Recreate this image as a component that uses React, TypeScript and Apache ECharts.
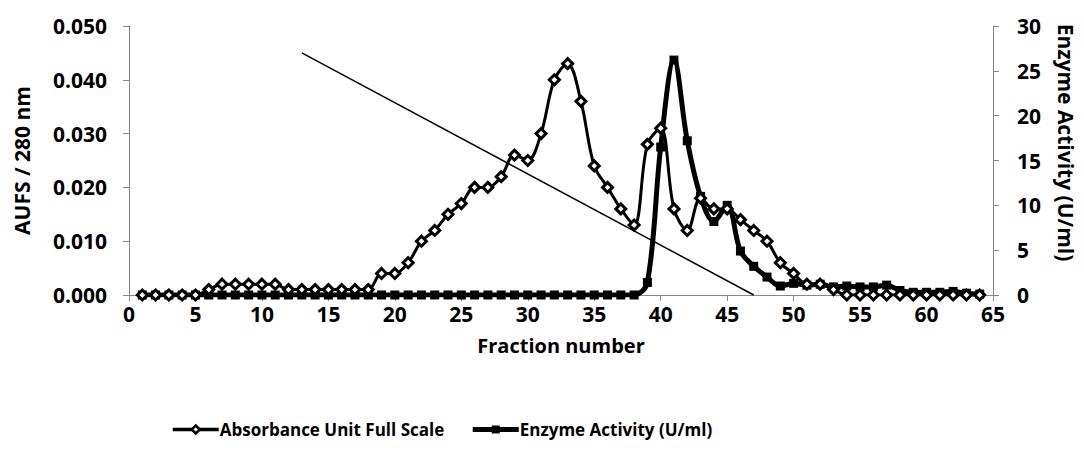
import React, { useEffect, useRef } from "react";
import * as echarts from "echarts";

const fractions = [
  1, 2, 3, 4, 5, 6, 7, 8, 9, 10, 11, 12, 13, 14, 15, 16, 17, 18, 19, 20, 21, 22,
  23, 24, 25, 26, 27, 28, 29, 30, 31, 32, 33, 34, 35, 36, 37, 38, 39, 40, 41, 42,
  43, 44, 45, 46, 47, 48, 49, 50, 51, 52, 53, 54, 55, 56, 57, 58, 59, 60, 61, 62,
  63, 64,
];

const absorbance = [
  0, 0, 0, 0, 0, 0.001, 0.002, 0.002, 0.002, 0.002, 0.002, 0.001, 0.001, 0.001,
  0.001, 0.001, 0.001, 0.001, 0.004, 0.004, 0.006, 0.01, 0.012, 0.015, 0.017,
  0.02, 0.02, 0.022, 0.026, 0.025, 0.03, 0.04, 0.043, 0.036, 0.024, 0.02, 0.016,
  0.013, 0.028, 0.031, 0.016, 0.012, 0.018, 0.016, 0.016, 0.014, 0.012, 0.01,
  0.006, 0.004, 0.002, 0.002, 0.001, 0, 0, 0, 0, 0, 0, 0, 0, 0, 0, 0,
];

const enzyme = [
  0, 0, 0, 0, 0, 0, 0, 0, 0, 0, 0, 0, 0, 0, 0, 0, 0, 0, 0, 0, 0, 0, 0, 0, 0, 0,
  0, 0, 0, 0, 0, 0, 0, 0, 0, 0, 0, 0, 1.4, 16.5, 26.2, 17.2, 11, 8.2, 10, 4.9,
  3.2, 2.0, 1.0, 1.3, 1.1, 1.2, 0.9, 1.0, 0.9, 0.9, 1.1, 0.5, 0.3, 0.3, 0.3, 0.4,
  0.2, 0.1,
];

const gradientX = [13, 47];
const gradientY = [0.045, 0];

const seriesNames = ["Absorbance Unit Full Scale", "Enzyme Activity (U/ml)"];

const FONT = "'Open Sans', 'Noto Sans', sans-serif";

export default function App() {
  const ref = useRef<HTMLDivElement>(null);

  useEffect(() => {
    if (!ref.current) return;
    const chart = echarts.init(ref.current, undefined, { renderer: "svg" });
    const axisLine = { show: true, lineStyle: { color: "#868686", width: 1 } };
    const labelStyle = {
      color: "#000",
      fontFamily: FONT,
      fontWeight: "bold" as const,
      fontSize: 21,
    };
    const tick = { show: true, length: 6, lineStyle: { color: "#868686" } };
    chart.setOption({
      animation: false,
      backgroundColor: "#fff",
      grid: { left: 129, right: 88, top: 26, bottom: 158, containLabel: false },
      legend: {
        data: [
          {
            name: seriesNames[0],
            lineStyle: { width: 3.5, color: "#000" },
            itemStyle: { color: "#fff", borderColor: "#000", borderWidth: 2.5 },
          },
          {
            name: seriesNames[1],
            lineStyle: { width: 5, color: "#000" },
            itemStyle: { color: "#000", borderColor: "#000", borderWidth: 0 },
          },
        ],
        left: 166,
        top: 416,
        itemWidth: 46,
        itemHeight: 10,
        itemGap: 26,
        textStyle: { ...labelStyle, fontSize: 17, padding: [0, 0, 0, -4] },
      },
      xAxis: {
        type: "value",
        min: 0,
        max: 65,
        interval: 5,
        name: "Fraction number",
        nameLocation: "middle",
        nameGap: 40,
        nameTextStyle: { ...labelStyle, fontSize: 20 },
        axisLine: { ...axisLine, onZero: false },
        axisTick: tick,
        axisLabel: { ...labelStyle, margin: 8 },
        splitLine: { show: false },
      },
      yAxis: [
        {
          type: "value",
          min: 0,
          max: 0.05,
          interval: 0.01,
          name: "AUFS / 280 nm",
          nameLocation: "middle",
          nameGap: 97,
          nameTextStyle: { ...labelStyle },
          axisLine,
          axisTick: tick,
          axisLabel: {
            ...labelStyle,
            margin: 22,
            formatter: (v: number) => v.toFixed(3),
          },
          splitLine: { show: false },
        },
        {
          type: "value",
          min: 0,
          max: 30,
          interval: 5,
          position: "right",
          name: "Enzyme Activity (U/ml)",
          nameLocation: "middle",
          nameRotate: -90,
          nameGap: 62,
          nameTextStyle: { ...labelStyle, padding: [0, 36, 0, 0] },
          axisLine,
          axisTick: tick,
          axisLabel: { ...labelStyle, margin: 24 },
          splitLine: { show: false },
        },
      ],
      series: [
        {
          name: seriesNames[0],
          type: "line",
          yAxisIndex: 0,
          data: fractions.map((f, i) => [f, absorbance[i]]),
          smooth: 0.35,
          symbol: "diamond",
          symbolSize: 10,
          showAllSymbol: true,
          lineStyle: { color: "#000", width: 3 },
          itemStyle: { color: "#fff", borderColor: "#000", borderWidth: 3 },
          z: 3,
        },
        {
          name: seriesNames[1],
          type: "line",
          yAxisIndex: 1,
          data: fractions.map((f, i) => [f, enzyme[i]]),
          smooth: 0.35,
          symbol: "rect",
          symbolSize: 9,
          showAllSymbol: true,
          lineStyle: { color: "#000", width: 5 },
          itemStyle: { color: "#000", borderColor: "#000", borderWidth: 0 },
          z: 2,
        },
        {
          name: "gradient",
          type: "line",
          yAxisIndex: 0,
          data: gradientX.map((x, i) => [x, gradientY[i]]),
          symbol: "none",
          lineStyle: { color: "#000", width: 1.5 },
          z: 1,
        },
      ],
    });
    return () => chart.dispose();
  }, []);

  return (
    <div
      ref={ref}
      style={{ position: "absolute", left: 0, top: 0, width: 1084, height: 453 }}
    />
  );
}
